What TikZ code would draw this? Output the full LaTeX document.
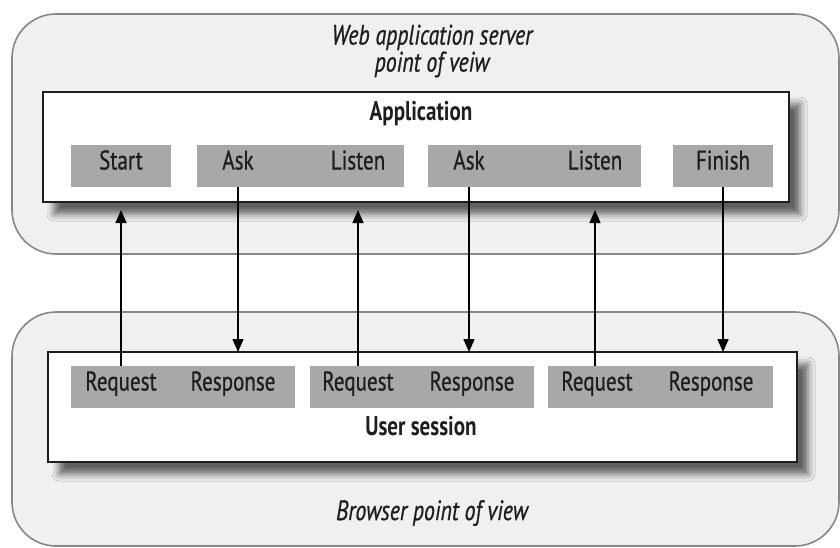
\documentclass[tikz,border=0pt]{standalone}
\usepackage{fontspec}
\setmainfont[FakeStretch=0.78, UprightFeatures={FakeBold=0.7}, ItalicFeatures={FakeBold=0.7}]{PT Sans}
\usetikzlibrary{arrows.meta,shadows.blur}
\definecolor{panelfill}{RGB}{240,240,240}
\definecolor{panelline}{RGB}{135,135,135}
\definecolor{stepfill}{RGB}{168,168,168}
\definecolor{inkdark}{RGB}{30,30,30}
\tikzset{
  panel/.style={draw=panelline, fill=panelfill, line width=1.6pt, rounded corners=44pt,
    inner sep=0pt, outer sep=0pt},
  layer/.style={draw=inkdark, fill=white, line width=1.8pt, inner sep=0pt, outer sep=0pt,
    blur shadow={shadow xshift=11pt, shadow yshift=-12pt, shadow blur radius=7pt,
      shadow opacity=60}},
  graybox/.style={fill=stepfill, inner sep=0pt, outer sep=0pt, minimum height=42pt},
  lbl/.style={text=inkdark, font=\fontsize{27}{30}\selectfont, inner sep=0pt,
    text height=0.9em, text depth=0.2em},
  title/.style={text=inkdark, font=\fontsize{27}{30}\selectfont\bfseries, inner sep=0pt,
    text height=0.9em, text depth=0.2em},
  caption/.style={text=inkdark, font=\fontsize{28}{27}\selectfont\itshape, inner sep=0pt,
    align=center},
  flow/.style={draw=black, line width=1.5pt, -{Triangle[length=13pt,width=11pt]}},
}
\begin{document}
\begin{tikzpicture}[x=1pt,y=-1pt]
\useasboundingbox (0,0) rectangle (840,547);

% outer panels: the two points of view
\node[panel, minimum width=827pt, minimum height=240pt] (server) at (425.5,134) {};
\node[panel, minimum width=827pt, minimum height=234pt] (browser) at (425.5,429) {};

\node[caption] (servercap) at (432,51) {Web application server\\point of veiw};
\node[caption] (browsercap) at (432,513) {Browser point of view};

% application layer
\node[layer, minimum width=746pt, minimum height=110pt] (app) at (416,147) {};
\node[title] (apptitle) at (421,117) {Application};

\node[graybox, minimum width=100pt] (startbox) at (121,166) {};
\node[graybox, minimum width=207pt] (al1) at (300.5,166) {};
\node[graybox, minimum width=213pt] (al2) at (534.5,166) {};
\node[graybox, minimum width=100pt] (finishbox) at (723,166) {};

\node[lbl] (start) at (121,166) {Start};
\node[lbl] (ask1) at (238,166) {Ask};
\node[lbl] (listen1) at (358,166) {Listen};
\node[lbl] (ask2) at (469,166) {Ask};
\node[lbl] (listen2) at (595,166) {Listen};
\node[lbl] (finish) at (723,166) {Finish};

% user session layer
\node[layer, minimum width=749pt, minimum height=110pt] (session) at (422.5,407) {};
\node[title] (sessiontitle) at (421,432) {User session};

\node[graybox, minimum width=224pt] (rr1) at (183,387) {};
\node[graybox, minimum width=224pt] (rr2) at (422,387) {};
\node[graybox, minimum width=225pt] (rr3) at (660.5,387) {};

\node[lbl] (req1) at (121,387) {Request};
\node[lbl] (resp1) at (233,387) {Response};
\node[lbl] (req2) at (358,387) {Request};
\node[lbl] (resp2) at (472,387) {Response};
\node[lbl] (req3) at (597,387) {Request};
\node[lbl] (resp3) at (711,387) {Response};

% requests travel up, responses travel down
\draw[flow, shorten >=8pt] (start |- rr1.north) -- (start |- app.south);
\draw[flow] (ask1 |- al1.south) -- (ask1 |- session.north);
\draw[flow, shorten >=8pt] (listen1 |- rr2.north) -- (listen1 |- app.south);
\draw[flow] (ask2 |- al2.south) -- (ask2 |- session.north);
\draw[flow, shorten >=8pt] (listen2 |- rr3.north) -- (listen2 |- app.south);
\draw[flow] (finish |- finishbox.south) -- (finish |- session.north);
\end{tikzpicture}
\end{document}
